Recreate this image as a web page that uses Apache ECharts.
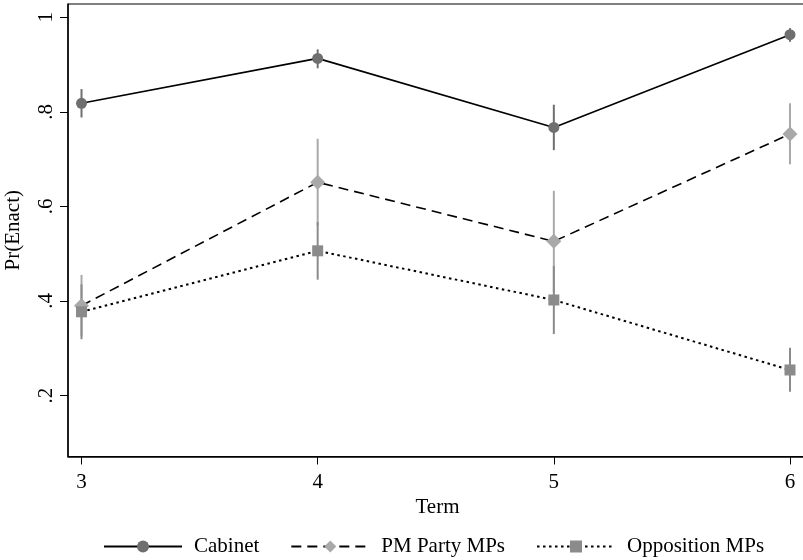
<!DOCTYPE html>
<html><head><meta charset="utf-8">
<script src="https://cdn.jsdelivr.net/npm/echarts@6/dist/echarts.min.js"></script>
<style>html,body{margin:0;padding:0;background:#fff}#c{width:803px;height:560px}</style>
</head><body><div id="c"></div>
<script>
const terms = [3, 4, 5, 6];
const cabinet = [0.818, 0.913, 0.767, 0.963];
const cabinetLo = [0.788, 0.892, 0.719, 0.948];
const cabinetHi = [0.848, 0.932, 0.815, 0.977];
const pmParty = [0.390, 0.651, 0.526, 0.753];
const pmPartyLo = [0.325, 0.559, 0.419, 0.689];
const pmPartyHi = [0.455, 0.743, 0.633, 0.818];
const opposition = [0.377, 0.506, 0.402, 0.254];
const oppositionLo = [0.319, 0.445, 0.330, 0.208];
const oppositionHi = [0.435, 0.567, 0.474, 0.301];
const xTicks = [3, 4, 5, 6];
const yTicks = [0.2, 0.4, 0.6, 0.8, 1];
const yTickLabels = ['.2', '.4', '.6', '.8', '1'];
const seriesNames = ['Cabinet', 'PM Party MPs', 'Opposition MPs'];

const FONT = 'Liberation Serif';
const FS = 21;
const C_CAB = '#6f6f71', C_PM = '#a9a9a9', C_OPP = '#8b8b8b';

function errSeries(name, lo, hi, color) {
  return {
    type: 'custom', name: name + ' CI', silent: true, z: 1,
    encode: {x: 0, y: [1, 2]},
    data: terms.map((t, i) => [t, lo[i], hi[i]]),
    renderItem: (params, api) => {
      const a = api.coord([api.value(0), api.value(1)]);
      const b = api.coord([api.value(0), api.value(2)]);
      return {type: 'line', shape: {x1: a[0], y1: a[1], x2: b[0], y2: b[1]},
        style: {stroke: color, lineWidth: 2}};
    }
  };
}
function lineSeries(name, vals, symbol, size, color, dash, width) {
  return {
    type: 'line', name: name, z: 3,
    data: terms.map((t, i) => [t, vals[i]]),
    symbol: symbol, symbolSize: size, showSymbol: true,
    lineStyle: {color: '#000', width: width, type: dash},
    itemStyle: {color: color, borderWidth: 0}
  };
}

const chart = echarts.init(document.getElementById('c'), null, {renderer: 'canvas'});
chart.setOption({
  animation: false,
  backgroundColor: '#fff',
  textStyle: {fontFamily: FONT, color: '#000'},
  grid: {left: 68, right: -4, top: 4, bottom: 103.5, show: true, borderColor: '#000', borderWidth: 1, containLabel: false, outerBoundsMode: 'none'},
  legend: {
    data: seriesNames, left: 98, top: 531, itemWidth: 78, itemHeight: 15, itemGap: 31,
    textStyle: {fontFamily: FONT, fontSize: FS, color: '#000', padding: [0, 0, 0, 7]}
  },
  xAxis: {
    type: 'value', min: 2.9428, max: 6.072,
    name: 'Term', nameLocation: 'middle', nameGap: 36,
    nameTextStyle: {fontFamily: FONT, fontSize: FS, color: '#000'},
    axisLine: {show: true, lineStyle: {color: '#000', width: 1.5}},
    axisTick: {show: true, length: 8, customValues: xTicks, lineStyle: {color: '#000', width: 1}},
    axisLabel: {customValues: xTicks, margin: 15, fontFamily: FONT, fontSize: FS, color: '#000'},
    splitLine: {show: false}
  },
  yAxis: {
    type: 'value', min: 0.071, max: 1.028,
    name: 'Pr(Enact)', nameLocation: 'middle', nameGap: 44, nameRotate: 90,
    nameTextStyle: {fontFamily: FONT, fontSize: FS, color: '#000'},
    axisLine: {show: true, lineStyle: {color: '#000', width: 1.5}},
    axisTick: {show: true, length: 8, customValues: yTicks, lineStyle: {color: '#000', width: 1}},
    axisLabel: {
      customValues: yTicks, rotate: 90, margin: 11, fontFamily: FONT, fontSize: FS, color: '#000',
      formatter: v => {
        let best = 0;
        yTicks.forEach((t, i) => { if (Math.abs(t - v) < Math.abs(yTicks[best] - v)) best = i; });
        return yTickLabels[best];
      }
    },
    splitLine: {show: false}
  },
  series: [
    errSeries('Cabinet', cabinetLo, cabinetHi, C_CAB),
    errSeries('PM Party MPs', pmPartyLo, pmPartyHi, C_PM),
    errSeries('Opposition MPs', oppositionLo, oppositionHi, C_OPP),
    lineSeries('Cabinet', cabinet, 'circle', 11, C_CAB, 'solid', 1.6),
    lineSeries('PM Party MPs', pmParty, 'diamond', 15, C_PM, [10, 6], 1.6),
    lineSeries('Opposition MPs', opposition, 'rect', 11, C_OPP, [2.5, 3.5], 2)
  ]
});
</script>
</body></html>
